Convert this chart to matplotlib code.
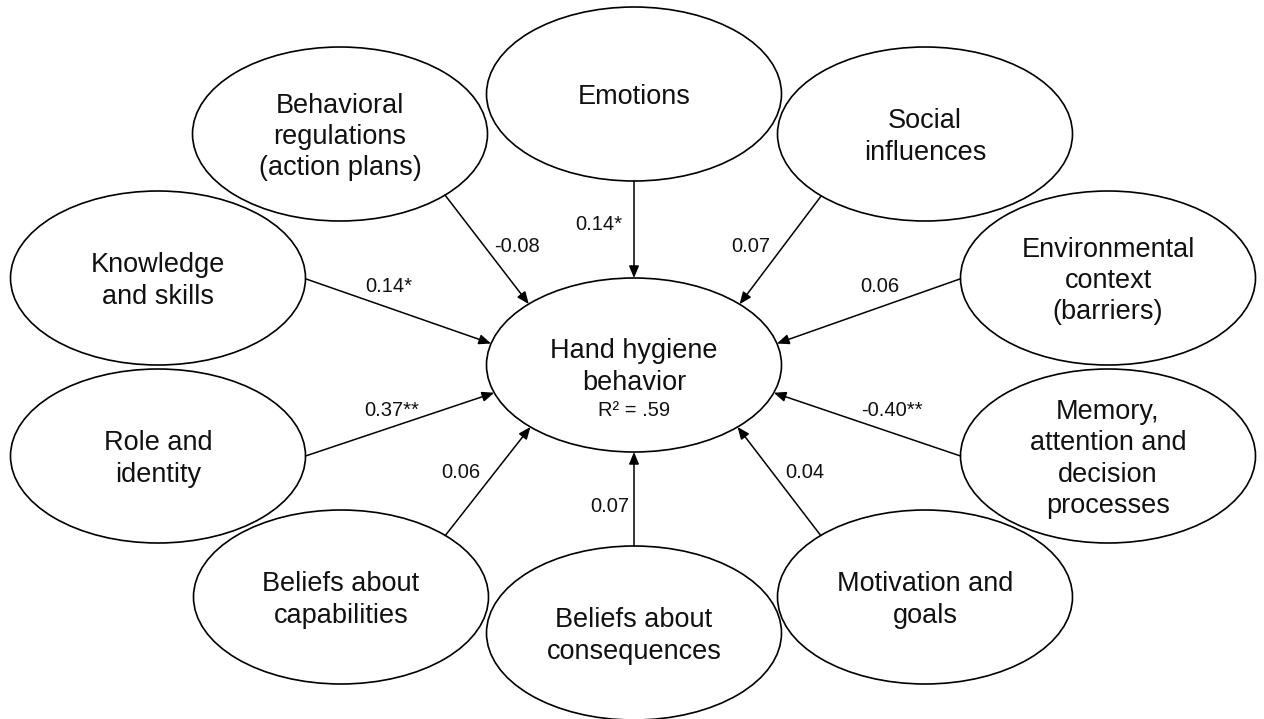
import numpy as np
import matplotlib
matplotlib.use("Agg")
import matplotlib.pyplot as plt
from matplotlib.patches import Ellipse

plt.rcParams['font.family'] = ['Liberation Sans', 'DejaVu Sans']

# ---- data ----
outcome_label = "Hand hygiene\nbehavior"
outcome_r2 = "R² = .59"
predictors = ["Emotions",
              "Behavioral\nregulations\n(action plans)",
              "Social\ninfluences",
              "Knowledge\nand skills",
              "Environmental\ncontext\n(barriers)",
              "Role and\nidentity",
              "Memory,\nattention and\ndecision\nprocesses",
              "Beliefs about\ncapabilities",
              "Beliefs about\nconsequences",
              "Motivation and\ngoals"]
coefficients = ["0.14*", "-0.08", "0.07", "0.14*", "0.06",
                "0.37**", "-0.40**", "0.06", "0.07", "0.04"]

# ---- layout (pixel space, y downward) ----
W, H = 1264, 719
center_xy = (634, 365)
ell_w, ell_h = 295, 174
pred_xy = [(634, 94), (340, 134), (925, 134), (158, 278), (1108, 278),
           (158, 456), (1108, 456), (341, 597), (634, 633), (925, 597)]
# parametric angle (deg) on source ellipse where the path starts
start_ang = [90, 44.6, 134.7, 0.5, 179.5, 0, 180, -45, -90, -135]
# parametric angle (deg) on outcome ellipse where the arrow ends
end_ang = [-90, -135.5, -44.3, -165.7, -14.3, 161.4, 18.6, 134.6, 90, 45.4]
label_xy = [(599, 225), (517, 246), (751, 246), (389, 287), (880, 287),
            (392, 410), (892, 410), (461, 473), (610, 506), (805, 473)]

fig = plt.figure(figsize=(W / 100, H / 100), dpi=100)
ax = fig.add_axes([0, 0, 1, 1])
ax.set_xlim(0, W)
ax.set_ylim(H, 0)
ax.axis('off')

txt_color = '#111111'
node_fs = 19.5
lbl_fs = 14.5
lsp = 1.27


def on_ellipse(c, ang):
    t = np.deg2rad(ang)
    return (c[0] + ell_w / 2 * np.cos(t), c[1] + ell_h / 2 * np.sin(t))


# outcome node
ax.add_patch(Ellipse(center_xy, ell_w, ell_h, fill=False, ec='black', lw=1.2))
ax.text(center_xy[0], center_xy[1] + 2, outcome_label, ha='center', va='center',
        fontsize=node_fs, color=txt_color, linespacing=lsp)
ax.text(center_xy[0], center_xy[1] + 46, outcome_r2, ha='center', va='center',
        fontsize=lbl_fs, color=txt_color)

for name, c, coef, sa, ea, lxy in zip(predictors, pred_xy, coefficients,
                                      start_ang, end_ang, label_xy):
    ax.add_patch(Ellipse(c, ell_w, ell_h, fill=False, ec='black', lw=1.2))
    ax.text(c[0], c[1] + 3, name, ha='center', va='center', fontsize=node_fs,
            color=txt_color, linespacing=lsp)
    p0 = on_ellipse(c, sa)
    p1 = on_ellipse(center_xy, ea)
    ax.annotate("", xy=p1, xytext=p0,
                arrowprops=dict(arrowstyle='-|>,head_length=0.6,head_width=0.25',
                                mutation_scale=12, color='black', lw=1.1,
                                shrinkA=0, shrinkB=0))
    ax.text(lxy[0], lxy[1], coef, ha='center', va='center', fontsize=lbl_fs,
            color=txt_color)

fig.savefig("out.png", dpi=100, facecolor='white')
